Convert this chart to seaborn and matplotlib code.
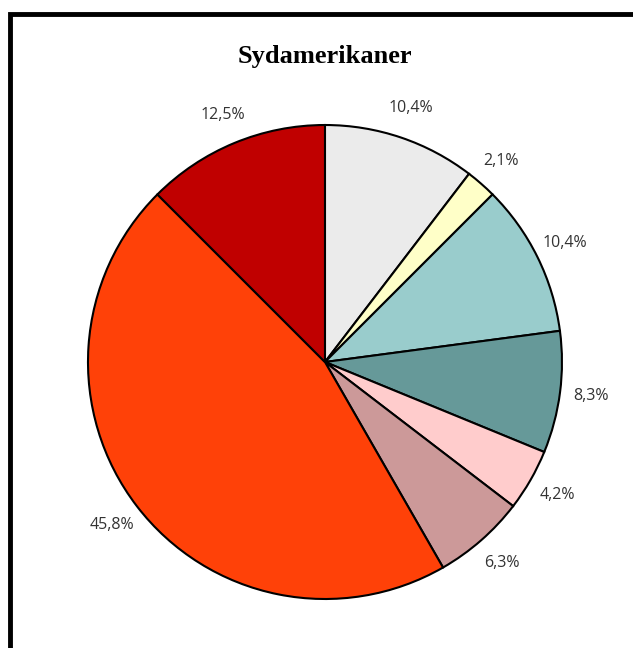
import matplotlib
matplotlib.use("Agg")
import matplotlib.pyplot as plt
import matplotlib.patches as mpatches
import seaborn as sns

sns.set_theme(style="white")
plt.rcParams['font.family'] = ['Open Sans', 'DejaVu Sans']

# Data
shares = [10.4, 2.1, 10.4, 8.3, 4.2, 6.3, 45.8, 12.5]
slice_colors = ["#EBEBEB", "#FFFFC8", "#99CCCC", "#669999",
                "#FFCCCC", "#CC9999", "#FF4108", "#C00000"]
title = "Sydamerikaner"

fig = plt.figure(figsize=(6.33, 6.48), dpi=100)
ax = fig.add_axes([0.139, 0.0756, 0.7488, 0.7315])

wedges, texts, autotexts = ax.pie(
    shares,
    colors=slice_colors,
    startangle=90,
    counterclock=False,
    radius=1.0,
    autopct=lambda p: f"{p:.1f}%".replace(".", ","),
    pctdistance=1.13,
    wedgeprops=dict(edgecolor="black", linewidth=1.5),
    textprops=dict(fontsize=11.5, color="#333333"),
)
ax.set_xlim(-1, 1)
ax.set_ylim(-1, 1)
ax.set_aspect("equal")
ax.axis("off")

fig.text(0.513, 0.913, title, ha="center", va="center", color="black",
         fontsize=19, fontweight="bold", family=["Liberation Serif", "DejaVu Serif"])

# outer frame (runs off the right and bottom edges as in the reference)
frame = mpatches.Rectangle((10 / 633, -0.05), 1.0, 1 - 14 / 648 + 0.05,
                           transform=fig.transFigure, fill=False,
                           edgecolor="black", linewidth=3.5)
fig.patches.append(frame)

plt.savefig("out.png", dpi=100)
plt.close()
